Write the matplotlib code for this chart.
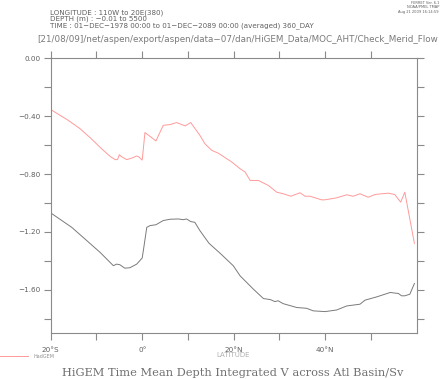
import numpy as np
import matplotlib.pyplot as plt

# latitude / value pairs
lat_red = [-20, -16.2, -13.6, -11.4, -8.9, -7.0, -5.9, -5.4, -5.0, -4.5, -3.4, -2.3, -1.2, -0.8, 0.0,
           0.6, 1.7, 3.0, 4.6, 6.1, 7.5, 9.4, 10.6, 12.6, 13.7, 15.2, 16.6, 19.6, 21.4, 22.5, 23.6,
           25.4, 27.6, 29.4, 30.8, 32.5, 34.5, 35.6, 36.7, 39.2, 39.9, 42.5, 44.7, 46.1, 47.6, 49.4,
           50.9, 52.3, 53.8, 55.2, 56.5, 57.4, 59.5]
val_red = [-0.354, -0.428, -0.486, -0.548, -0.624, -0.678, -0.700, -0.700, -0.666, -0.680, -0.700,
           -0.690, -0.675, -0.680, -0.703, -0.513, -0.539, -0.571, -0.463, -0.458, -0.444, -0.467,
           -0.444, -0.532, -0.590, -0.636, -0.655, -0.717, -0.763, -0.786, -0.844, -0.844, -0.879,
           -0.925, -0.936, -0.953, -0.929, -0.953, -0.953, -0.978, -0.978, -0.964, -0.943, -0.953,
           -0.936, -0.960, -0.941, -0.936, -0.932, -0.941, -0.994, -0.925, -1.279]

lat_blk = [-20, -15.4, -12.1, -9.2, -6.3, -5.6, -4.9, -3.8, -2.7, -1.2, 0.0, 0.3, 1.0, 1.7, 3.0,
           4.6, 6.1, 7.9, 9.0, 9.7, 10.6, 11.5, 12.6, 14.6, 17.2, 19.9, 21.4, 24.3, 26.5, 28.0,
           29.0, 29.7, 30.8, 33.8, 35.9, 37.4, 40.0, 42.5, 44.7, 47.6, 48.7, 51.3, 54.2, 56.0,
           56.7, 57.4, 58.5, 59.5]
val_blk = [-1.068, -1.168, -1.260, -1.341, -1.433, -1.422, -1.426, -1.450, -1.447, -1.422, -1.380,
           -1.318, -1.168, -1.156, -1.150, -1.121, -1.112, -1.110, -1.115, -1.110, -1.128, -1.133,
           -1.190, -1.278, -1.352, -1.433, -1.503, -1.595, -1.660, -1.667, -1.681, -1.675, -1.695,
           -1.722, -1.727, -1.745, -1.750, -1.739, -1.711, -1.699, -1.671, -1.648, -1.618, -1.625,
           -1.641, -1.641, -1.630, -1.556]

xticks = [-20, 0, 20, 40]
xticklabels = ['20°S', '0°', '20°N', '40°N']
yticks = [0.0, -0.4, -0.8, -1.2, -1.6]

W, H = 440, 379
fig = plt.figure(figsize=(W / 100, H / 100), dpi=100)
ax = fig.add_axes([50.7 / W, 1 - 333.3 / H, 366 / W, 275 / H])

axc = '#8a8a8a'
txc = '#606060'

ax.plot(lat_red, val_red, color='#ff9a9a', lw=0.7)
ax.plot(lat_blk, val_blk, color='#7a7a7a', lw=0.7)

ax.set_xlim(-20, 60)
ax.set_ylim(-1.9, 0)
ax.set_xticks(xticks)
ax.set_xticklabels(xticklabels)
ax.set_xticks([-10, 10, 30, 50], minor=True)
ax.set_yticks(yticks)
ax.set_yticklabels(['%.2f' % v if v == 0 else '\u2212%.2f' % abs(v) for v in yticks])
ax.set_yticks([-0.2, -0.6, -1.0, -1.4, -1.8], minor=True)
ax.tick_params(which='both', direction='out', top=True, right=True, color=axc, width=0.8,
               labelsize=5.2, labelcolor=txc, pad=2)
ax.tick_params(which='major', length=5)
ax.tick_params(which='minor', length=5)
ax.tick_params(axis='x', pad=5)
for s in ax.spines.values():
    s.set_color(axc)
    s.set_linewidth(0.8)

def ft(x, y, s, **kw):
    fig.text(x / W, 1 - y / H, s, **kw)

ft(50, 13, 'LONGITUDE : 110W to 20E(380)', fontsize=5.1, color=txc, va='center')
ft(50, 19, 'DEPTH (m) : \u22120.01 to 5500', fontsize=5.1, color=txc, va='center')
ft(50, 25.5, 'TIME : 01\u2212DEC\u22121978 00:00 to 01\u2212DEC\u22122089 00:00 (averaged) 360_DAY',
   fontsize=5.1, color=txc, va='center')
ft(438, 40, '[21/08/09]/net/aspen/export/aspen/data\u221207/dan/HiGEM_Data/MOC_AHT/Check_Merid_Flow',
   fontsize=6.3, color='#7a7a7a', ha='right', va='center')
ft(439, 3.5, 'FERRET Ver. 6.1', fontsize=2.6, color=txc, ha='right', va='center')
ft(439, 7.5, 'NOAA/PMEL TMAP', fontsize=2.6, color=txc, ha='right', va='center')
ft(439, 11.5, 'Aug 21 2009 16:14:59', fontsize=2.6, color=txc, ha='right', va='center')

ft(233.3, 355, 'LATITUDE', fontsize=5, color='#b0b0b0', ha='center', va='center')
fig.add_artist(plt.Line2D([0, 28 / W], [1 - 356 / H, 1 - 356 / H], color='#ff9a9a', lw=0.7))
ft(34, 356, 'HadGEM', fontsize=3.5, color='#909090', va='center')
ft(233, 373, 'HiGEM Time Mean Depth Integrated V across Atl Basin/Sv', fontsize=8.2,
   family='DejaVu Serif', color='#707070', ha='center', va='center')

fig.savefig('out.png', dpi=100)
